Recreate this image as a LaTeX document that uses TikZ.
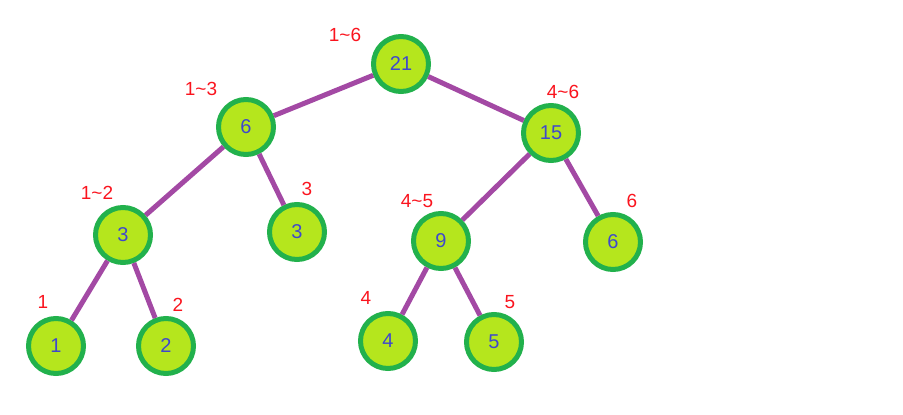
\documentclass[tikz,border=0pt]{standalone}
\usepackage{fontspec}
\setmainfont{Liberation Sans}
\definecolor{limefill}{RGB}{181,230,29}
\definecolor{rimgreen}{RGB}{34,177,76}
\definecolor{branch}{RGB}{163,73,164}
\definecolor{sumblue}{RGB}{63,72,204}
\definecolor{rangered}{RGB}{250,20,30}
\begin{document}
\begin{tikzpicture}[x=1pt,y=-1pt]
\tikzset{
  seg/.style={draw=rimgreen, line width=5pt, circle, fill=limefill, minimum size=55pt,
    inner sep=0pt, text=sumblue, font=\fontsize{20}{20}\selectfont},
  rng/.style={text=rangered, inner sep=0pt, font=\fontsize{19}{19}\selectfont}
}
\useasboundingbox (0,0) rectangle (903,415);

\node[seg] (n16) at (401,64) {21};
\node[seg] (n13) at (246,127) {6};
\node[seg] (n46) at (551,133) {15};
\node[seg] (n12) at (123,235) {3};
\node[seg] (n3) at (297,232) {3};
\node[seg] (n45) at (441,241) {9};
\node[seg] (n6) at (613,242) {6};
\node[seg] (n1) at (56,346) {1};
\node[seg] (n2) at (166,346) {2};
\node[seg] (n4) at (388,341) {4};
\node[seg] (n5) at (494,342) {5};

\node[rng] (r16) at (345,35) {1\textasciitilde6};
\node[rng] (r13) at (201,89) {1\textasciitilde3};
\node[rng] (r46) at (563,92) {4\textasciitilde6};
\node[rng] (r12) at (97,193) {1\textasciitilde2};
\node[rng] (r3) at (307,189) {3};
\node[rng] (r45) at (417,201) {4\textasciitilde5};
\node[rng] (r6) at (632,201) {6};
\node[rng] (r1) at (43,302) {1};
\node[rng] (r2) at (178,305) {2};
\node[rng] (r4) at (366,298) {4};
\node[rng] (r5) at (510,302) {5};

\path[draw=branch,line width=5pt] (n16) -- (n13);
\path[draw=branch,line width=5pt] (n16) -- (n46);
\path[draw=branch,line width=5pt] (n13) -- (n12);
\path[draw=branch,line width=5pt] (n13) -- (n3);
\path[draw=branch,line width=5pt] (n46) -- (n45);
\path[draw=branch,line width=5pt] (n46) -- (n6);
\path[draw=branch,line width=5pt] (n12) -- (n1);
\path[draw=branch,line width=5pt] (n12) -- (n2);
\path[draw=branch,line width=5pt] (n45) -- (n4);
\path[draw=branch,line width=5pt] (n45) -- (n5);
\end{tikzpicture}
\end{document}
